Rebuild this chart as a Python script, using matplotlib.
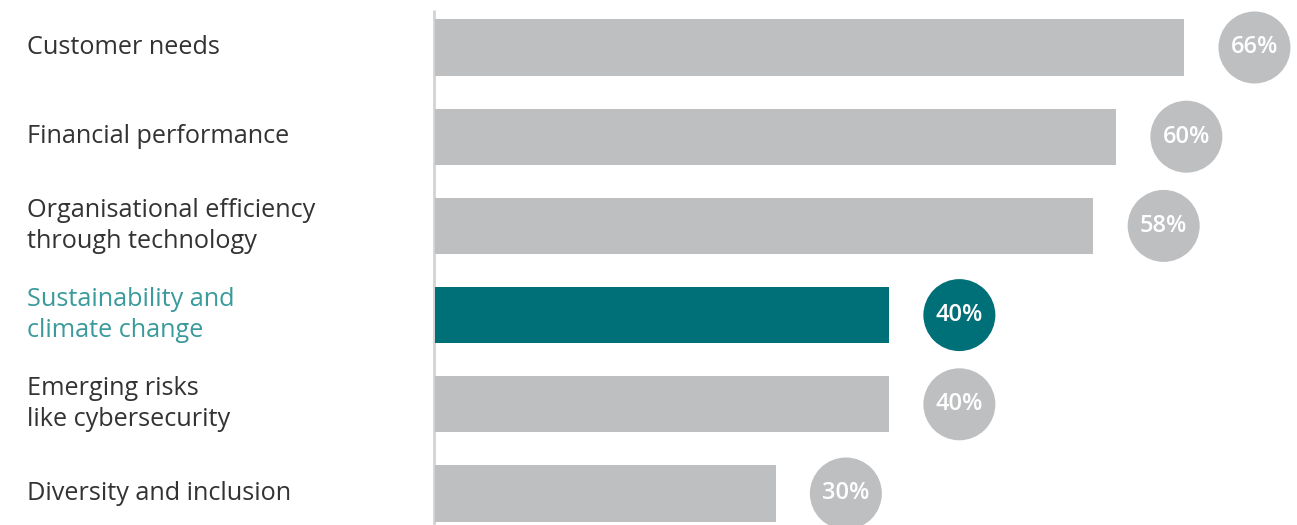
"""Horizontal bar chart of priority areas with circular value badges"""

import matplotlib.pyplot as plt

plt.rcParams['font.family'] = ['Open Sans', 'DejaVu Sans']

categories = [
    'Customer needs',
    'Financial performance',
    'Organisational efficiency\nthrough technology',
    'Sustainability and\nclimate change',
    'Emerging risks\nlike cybersecurity',
    'Diversity and inclusion',
]
values = [66, 60, 58, 40, 40, 30]
highlight = 'Sustainability and\nclimate change'

grey = '#bebfc1'
teal = '#007078'
teal_text = '#3a9a9c'
text_color = '#333333'

W, H = 1297, 525
fig = plt.figure(figsize=(W / 100, H / 100), dpi=100)
fig.set_facecolor('w')

# axes starts where the bars start; 11.35 px per percentage point
left_px = 435
px_per_unit = 11.35
ax = fig.add_axes([left_px / W, 0, 1 - left_px / W, 1])
ax.set_xlim(0, (W - left_px) / px_per_unit)
row_px = 89.2
top_px = 47.5
ax.set_ylim((H - top_px) / row_px, -top_px / row_px)
ax.axis('off')

badge_gap = 6.2  # distance from bar end to badge centre, in data units
ypos = list(range(len(categories)))
colors = [teal if c == highlight else grey for c in categories]

ax.barh(ypos, values, height=0.63, color=colors, zorder=2)
ax.scatter([v + badge_gap for v in values], ypos, s=2687, c=colors,
           edgecolors='none', zorder=3, clip_on=False)
for y, v in zip(ypos, values):
    ax.text(v + badge_gap, y, f'{v}%', ha='center', va='center',
            color='white', fontsize=17, fontweight='semibold', zorder=4)

# thin vertical baseline
ax.plot([-0.12, -0.12], [-0.42, ypos[-1] + 1], color='#d3d3d3', lw=2,
        zorder=1, clip_on=False, solid_capstyle='butt')

# category labels in the left margin
for y, c in zip(ypos, categories):
    yfig = 1 - (top_px + y * row_px) / H
    fig.text(27 / W, yfig, c, ha='left', va='center', fontsize=18.2,
             linespacing=1.3,
             color=teal_text if c == highlight else text_color)

fig.savefig('out.png', dpi=100, facecolor='w')
